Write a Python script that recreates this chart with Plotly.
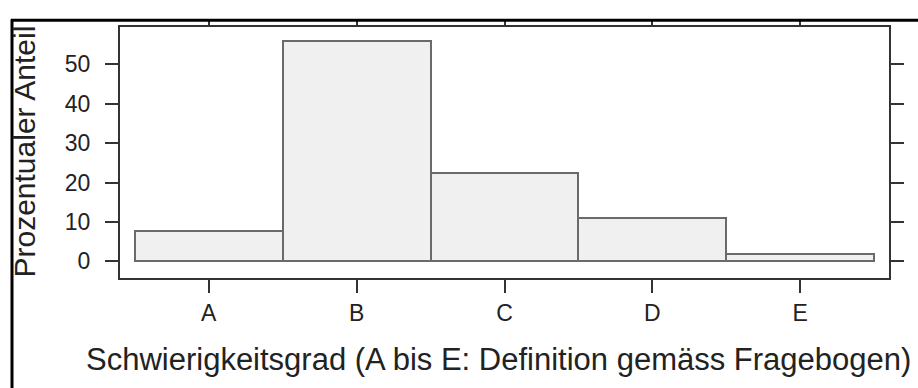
import plotly.graph_objects as go

categories = ["A", "B", "C", "D", "E"]
values = [7.8, 55.9, 22.5, 11.0, 1.9]
y_ticks = [0, 10, 20, 30, 40, 50]
x_title = "Schwierigkeitsgrad (A bis E: Definition gemäss Fragebogen)"
y_title = "Prozentualer Anteil"

W, H = 918, 388
L, R, T, B = 120, 889, 22, 278  # plot area in px

def px(x):
    return (x - L) / (R - L)

def py(y):
    return (B - y) / (B - T)

FONT = "Liberation Sans, Arial, sans-serif"

fig = go.Figure(go.Bar(
    x=categories, y=values,
    marker=dict(color="#f0f0f0", line=dict(color="#6a6a6a", width=2)),
    width=1.0,
))

axis_common = dict(
    showline=True, mirror="allticks", linecolor="#333", linewidth=2,
    ticks="outside", ticklen=13, tickwidth=2, tickcolor="#333",
    showgrid=False, zeroline=False,
    tickfont=dict(family=FONT, size=23, color="#222"),
)
fig.update_layout(
    width=W, height=H,
    margin=dict(l=L, r=W - R, t=T, b=H - B),
    paper_bgcolor="white", plot_bgcolor="white",
    showlegend=False,
    bargap=0,
    font=dict(family=FONT, color="#222", size=23),
    xaxis=dict(range=[-0.6, 4.6], **axis_common),
    yaxis=dict(range=[-4.23, 59.45], tickvals=y_ticks, ticklabelstandoff=10, **axis_common),
)

# white cover above outer frame (crop edge) and outer frame lines
fig.add_shape(type="rect", xref="paper", yref="paper",
              x0=px(0), x1=px(W), y0=py(15), y1=py(-5),
              fillcolor="white", line=dict(width=0), layer="above")
fig.add_shape(type="line", xref="paper", yref="paper",
              x0=px(11), x1=px(W + 5), y0=py(15), y1=py(15),
              line=dict(color="black", width=3), layer="above")
fig.add_shape(type="line", xref="paper", yref="paper",
              x0=px(12), x1=px(12), y0=py(14), y1=py(H + 5),
              line=dict(color="black", width=3), layer="above")

fig.add_annotation(text=x_title, xref="paper", yref="paper",
                   x=px(84), y=py(361), xanchor="left", yanchor="middle",
                   showarrow=False, font=dict(family=FONT, size=31, color="#222"))
fig.add_annotation(text=y_title, xref="paper", yref="paper",
                   x=px(25), y=py(149), xanchor="center", yanchor="middle",
                   textangle=-90, showarrow=False,
                   font=dict(family=FONT, size=30, color="#222"))

fig.write_html("out.html")
